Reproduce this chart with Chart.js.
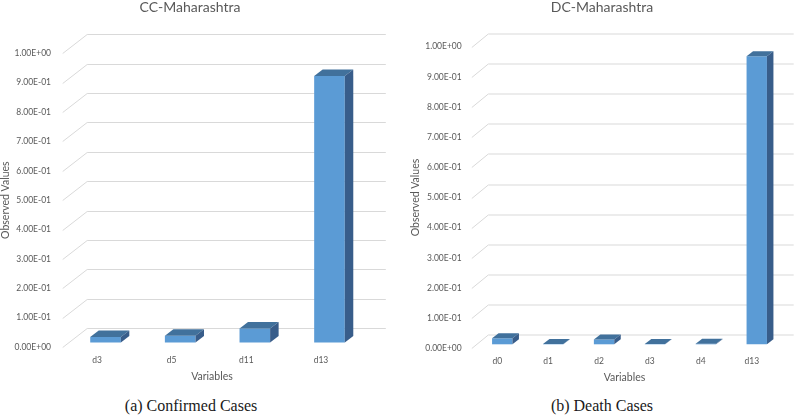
<!DOCTYPE html>
<html>
<head>
<meta charset="utf-8">
<script src="https://cdn.jsdelivr.net/npm/chart.js@4.4.1/dist/chart.umd.min.js"></script>
<style>
  html, body { margin: 0; padding: 0; background: #ffffff; }
  #wrap { position: relative; width: 796px; height: 415px; overflow: hidden; background: #fff; }
  canvas { position: absolute; top: 0; }
  .cap { position: absolute; width: 300px; text-align: center; font-family: "Liberation Serif", serif; font-size: 16px; line-height: 16px; color: #1a1a1a; }
</style>
</head>
<body>
<div id="wrap">
  <canvas id="cc" width="398" height="390" style="left:0px"></canvas>
  <canvas id="dc" width="388" height="390" style="left:408px"></canvas>
  <div class="cap" style="left:41px; top:398px;">(a) Confirmed Cases</div>
  <div class="cap" style="left:452px; top:398px;">(b) Death Cases</div>
</div>
<script>
// ---- data ----
const ccTitle = 'CC-Maharashtra';
const ccCategories = ['d3', 'd5', 'd11', 'd13'];
const ccValues = [0.019, 0.023, 0.048, 0.907];

const dcTitle = 'DC-Maharashtra';
const dcCategories = ['d0', 'd1', 'd2', 'd3', 'd4', 'd13'];
const dcValues = [0.020, 0.001, 0.016, 0.001, 0.002, 0.955];

const yTickMin = 0;
const yTickMax = 1;
const yTickStep = 0.1;
const xAxisTitle = 'Variables';
const yAxisTitle = 'Observed Values';

// ---- helpers ----
function fmtE(v) {
  const s = Number(v).toExponential(2); // e.g. "3.00e-1"
  const [m, e] = s.split('e');
  const sign = e[0] === '-' ? '-' : '+';
  const digits = e.replace(/[+-]/, '').padStart(2, '0');
  return m + 'E' + sign + digits;
}

const TXT = '#595959';
const GRID = '#d9d9d9';
const FRONT = '#5b9bd5';
const TOP = '#41719c';
const SIDE = '#385d8a';

const threeD = {
  id: 'threeD',
  beforeDatasetsDraw(chart, args, o) {
    const { ctx, chartArea: a, scales: { y } } = chart;
    ctx.save();
    ctx.strokeStyle = GRID;
    ctx.lineWidth = 1;
    y.ticks.forEach((t, i) => {
      const py = Math.round(y.getPixelForTick(i)) + 0.5;
      ctx.beginPath();
      ctx.moveTo(a.left, py);
      ctx.lineTo(a.left + o.wx, py - o.wy);
      ctx.lineTo(a.right + o.wx, py - o.wy);
      ctx.stroke();
    });
    ctx.restore();
    ctx.save();
    ctx.translate(o.bx, -o.by);
  },
  afterDatasetsDraw(chart, args, o) {
    const { ctx } = chart;
    const meta = chart.getDatasetMeta(0);
    meta.data.forEach(bar => {
      const { x, y, base, width } = bar.getProps(['x', 'y', 'base', 'width'], true);
      const l = x - width / 2, r = x + width / 2;
      ctx.fillStyle = TOP;
      ctx.beginPath();
      ctx.moveTo(l, y); ctx.lineTo(l + o.dx, y - o.dy); ctx.lineTo(r + o.dx, y - o.dy); ctx.lineTo(r, y);
      ctx.closePath(); ctx.fill();
      ctx.fillStyle = SIDE;
      ctx.beginPath();
      ctx.moveTo(r, y); ctx.lineTo(r + o.dx, y - o.dy); ctx.lineTo(r + o.dx, base - o.dy); ctx.lineTo(r, base);
      ctx.closePath(); ctx.fill();
    });
    ctx.restore();
  }
};

function makeChart(id, title, cats, vals, g) {
  return new Chart(document.getElementById(id), {
    type: 'bar',
    data: {
      labels: cats,
      datasets: [{
        data: vals,
        backgroundColor: FRONT,
        borderWidth: 0,
        barPercentage: g.barPct,
        categoryPercentage: 1,
        clip: false,
        yAxisID: 'y'
      }]
    },
    plugins: [threeD],
    options: {
      responsive: false,
      animation: false,
      devicePixelRatio: 1,
      layout: { padding: { left: 0, right: g.padR, top: 0, bottom: g.padB } },
      plugins: {
        legend: { display: false },
        tooltip: { enabled: false },
        title: {
          display: true,
          text: title,
          color: TXT,
          font: { family: 'Lato', size: 14, weight: 'normal', lineHeight: 1 },
          padding: { top: 0, bottom: g.titleGap }
        },
        threeD: g.depth
      },
      scales: {
        x: {
          grid: { display: false, drawTicks: false },
          border: { display: false },
          ticks: { color: TXT, font: { family: 'Lato', size: 8.5 }, padding: 8, labelOffset: g.xLabelOffset, maxRotation: 0, autoSkip: false },
          title: { display: true, text: xAxisTitle, color: TXT, font: { family: 'Lato', size: 10.5, lineHeight: 1.2 }, padding: { top: 0, bottom: 0 } },
          afterFit(s) { s.height = 36; }
        },
        y: {
          min: yTickMin,
          max: yTickMax,
          grid: { display: false, drawTicks: false },
          border: { display: false },
          ticks: { stepSize: yTickStep, color: TXT, font: { family: 'Lato', size: 8.5 }, padding: g.yTickPad, callback: v => fmtE(v) },
          title: { display: true, text: yAxisTitle, color: TXT, font: { family: 'Lato', size: 10.5, lineHeight: 1 }, padding: { top: g.yTitlePad, bottom: 0 } },
          afterFit(s) { s.width = g.yWidth; }
        },
        yRight: {
          type: 'linear',
          position: 'right',
          min: yTickMin,
          max: yTickMax,
          grid: { display: false, drawTicks: false },
          border: { display: false },
          ticks: { display: false },
          afterFit(s) { s.width = g.rightGap; }
        }
      }
    }
  });
}

makeChart('cc', ccTitle, ccCategories, ccValues, {
  barPct: 0.41, padR: 18, padB: 7, titleGap: 39.3,
  yWidth: 62.7, yTickPad: 11.7, yTitlePad: 0, rightGap: 18.7, xLabelOffset: -3,
  depth: { wx: 24.5, wy: 19, bx: 5.5, by: 4.5, dx: 8.5, dy: 6.5 }
});

makeChart('dc', dcTitle, dcCategories, dcValues, {
  barPct: 0.40, padR: 0, padB: 5.7, titleGap: 32.7,
  yWidth: 63.8, yTickPad: 10.1, yTitlePad: 2.6, rightGap: 18.8, xLabelOffset: 0,
  depth: { wx: 16.5, wy: 13.5, bx: 5, by: 4, dx: 6.5, dy: 5 }
});
</script>
</body>
</html>
